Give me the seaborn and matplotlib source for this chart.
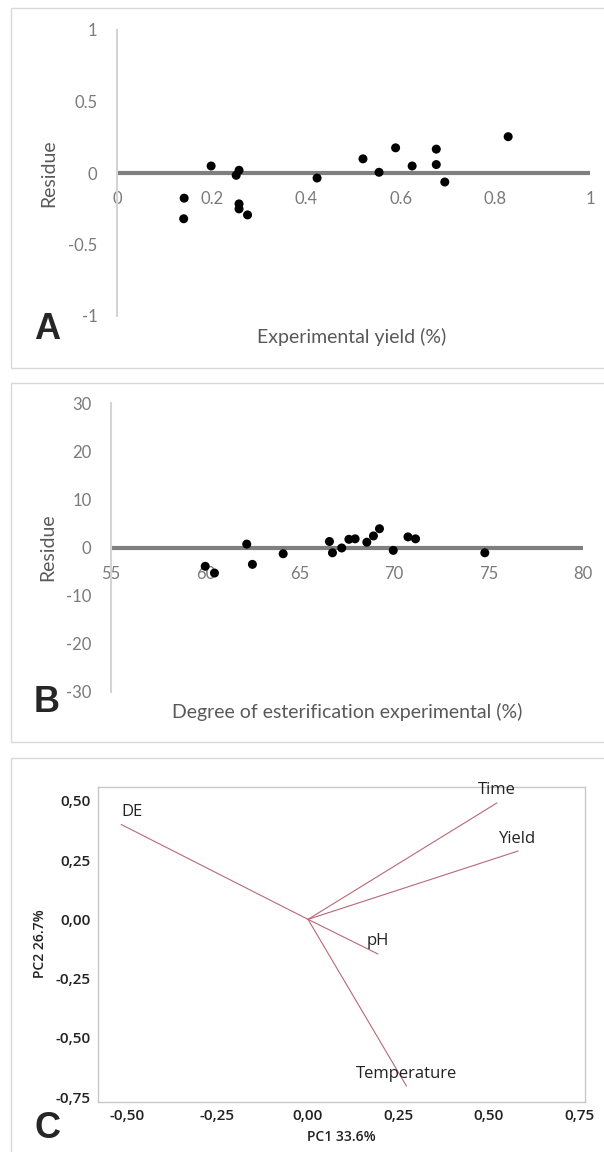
import seaborn as sns
import numpy as np
import matplotlib.pyplot as plt
import pandas as pd
from matplotlib.patches import Rectangle

#---------- DATA ----------
#A: residues of the yield model
yield_exp = [0.142, 0.141, 0.199, 0.258, 0.252, 0.258, 0.258, 0.276, 0.423,
             0.520, 0.554, 0.589, 0.624, 0.675, 0.675, 0.693, 0.827]
yield_res = [-0.176, -0.320, 0.049, 0.019, -0.016, -0.216, -0.251, -0.293, -0.035,
             0.099, 0.005, 0.176, 0.049, 0.167, 0.059, -0.063, 0.254]
a_xticks = [0, 0.2, 0.4, 0.6, 0.8, 1]
a_xticklabels = ["0", "0.2", "0.4", "0.6", "0.8", "1"]
a_yticks = [-1, -0.5, 0, 0.5, 1]
a_yticklabels = ["-1", "-0.5", "0", "0.5", "1"]

#B: residues of the degree of esterification model
de_exp = [59.99, 60.48, 62.19, 62.49, 64.12, 66.57, 66.73, 67.22, 67.60,
          67.93, 68.55, 68.90, 69.22, 69.95, 70.73, 71.13, 74.80]
de_res = [-3.9, -5.3, 0.7, -3.5, -1.3, 1.25, -1.1, -0.1, 1.7,
          1.8, 1.1, 2.4, 3.9, -0.6, 2.2, 1.8, -1.1]
b_xticks = [55, 60, 65, 70, 75, 80]
b_yticks = [-30, -20, -10, 0, 10, 20, 30]

#C: PCA loadings
pca_vars = ["DE", "Time", "Yield", "pH", "Temperature"]
pc1 = [-0.516, 0.522, 0.580, 0.193, 0.272]
pc2 = [0.400, 0.491, 0.288, -0.146, -0.703]
c_xticks = [-0.5, -0.25, 0, 0.25, 0.5, 0.75]
c_xticklabels = ["-0,50", "-0,25", "0,00", "0,25", "0,50", "0,75"]
c_yticks = [-0.75, -0.5, -0.25, 0, 0.25, 0.5]
c_yticklabels = ["-0,75", "-0,50", "-0,25", "0,00", "0,25", "0,50"]

#---------- LAYOUT HELPERS ----------
W, H = 604, 1152

def rect(l, t, r, b):
    #pixel box (top-left origin) -> figure fraction
    return [l / W, 1 - b / H, (r - l) / W, (b - t) / H]

def ftext(x, y, s, **kw):
    fig.text(x / W, 1 - y / H, s, ha="center", va="center", **kw)

sns.set_theme(style="white")
plt.rcParams["font.family"] = ["Lato", "DejaVu Sans"]

fig = plt.figure(figsize=(W / 100, H / 100), dpi=100)

#panel frames
for (t, b) in [(8, 368), (383, 742), (758, 1170)]:
    fig.patches.append(Rectangle((11 / W, 1 - b / H), 1.2, (b - t) / H,
                                 transform=fig.transFigure, fill=False,
                                 edgecolor="#d9d9d9", lw=1))

grey = "#595959"
tickgrey = "#7a7a7a"

def residue_axes(ax, x, y, xlim, ylim, xticks, yticks, xlabels, ylabels):
    ax.axhline(0, color="#7f7f7f", lw=3, zorder=1)
    sns.scatterplot(x=x, y=y, ax=ax, color="black", s=42, edgecolor="none", zorder=3)
    ax.set_xlim(*xlim)
    ax.set_ylim(*ylim)
    ax.set_xticks(xticks)
    ax.set_xticklabels(xlabels)
    ax.set_yticks(yticks)
    ax.set_yticklabels(ylabels)
    for s in ["top", "right", "bottom"]:
        ax.spines[s].set_visible(False)
    ax.spines["bottom"].set_position(("data", 0))
    ax.spines["left"].set_color("#d4d4d4")
    ax.spines["left"].set_linewidth(1.5)
    ax.tick_params(axis="x", length=0, pad=13, labelsize=12, labelcolor=tickgrey)
    ax.tick_params(axis="y", length=0, pad=14, labelsize=12, labelcolor=tickgrey)
    ax.set_xlabel("")
    ax.set_ylabel("")
    ax.patch.set_alpha(0)

#---------- A ----------
axA = fig.add_axes(rect(117, 30, 590, 316))
residue_axes(axA, yield_exp, yield_res, (0, 1), (-1, 1), a_xticks, a_yticks,
             a_xticklabels, a_yticklabels)
ftext(49, 173, "Residue", rotation=90, color=grey, fontsize=14)
ftext(352, 337, "Experimental yield (%)", color=grey, fontsize=14)
ftext(47, 330, "A", fontsize=26, fontweight="bold", family="Liberation Sans")

#---------- B ----------
axB = fig.add_axes(rect(111, 403, 583, 692))
residue_axes(axB, de_exp, de_res, (55, 80), (-30, 30), b_xticks, b_yticks,
             [str(v) for v in b_xticks], [str(v) for v in b_yticks])
ftext(48, 547, "Residue", rotation=90, color=grey, fontsize=14)
ftext(347, 712, "Degree of esterification experimental (%)", color=grey, fontsize=14)
ftext(47, 703, "B", fontsize=26, fontweight="bold", family="Liberation Sans")

#---------- C ----------
axC = fig.add_axes(rect(98, 787, 585, 1102))
rows = []
for v, x, y in zip(pca_vars, pc1, pc2):
    rows.append({"var": v, "pc1": 0.0, "pc2": 0.0, "step": 0})
    rows.append({"var": v, "pc1": x, "pc2": y, "step": 1})
load = pd.DataFrame(rows)
sns.lineplot(data=load, x="pc1", y="pc2", units="var", estimator=None, sort=False,
             color="#b86878", lw=0.8, ax=axC)
for v, x, y in zip(pca_vars, pc1, pc2):
    axC.annotate(v, (x, y), xytext=(0, 9), textcoords="offset points",
                 ha="left" if x < 0 else "center", va="center",
                 fontsize=12, family="Open Sans", color="#222222")
axC.set_xlim(-0.580, 0.765)
axC.set_ylim(-0.77, 0.558)
axC.set_xticks(c_xticks)
axC.set_xticklabels(c_xticklabels)
axC.set_yticks(c_yticks)
axC.set_yticklabels(c_yticklabels)
for s in axC.spines.values():
    s.set_color("#c8c8c8")
    s.set_linewidth(1)
axC.tick_params(length=3, width=0.8, color="#c8c8c8", pad=2, labelsize=11,
                labelcolor="#222222")
for lab in axC.get_xticklabels() + axC.get_yticklabels():
    lab.set_family("Open Sans")
    lab.set_fontweight("semibold")
axC.set_xlabel("")
axC.set_ylabel("")
ftext(341, 1137, "PC1 33.6%", fontsize=10, family="Open Sans", fontweight="semibold",
      color="#222222")
ftext(40, 944, "PC2 26.7%", rotation=90, fontsize=10, family="Open Sans",
      fontweight="semibold", color="#222222")
ftext(47, 1128, "C", fontsize=26, fontweight="bold", family="Liberation Sans")

fig.savefig("out.png", dpi=100)
